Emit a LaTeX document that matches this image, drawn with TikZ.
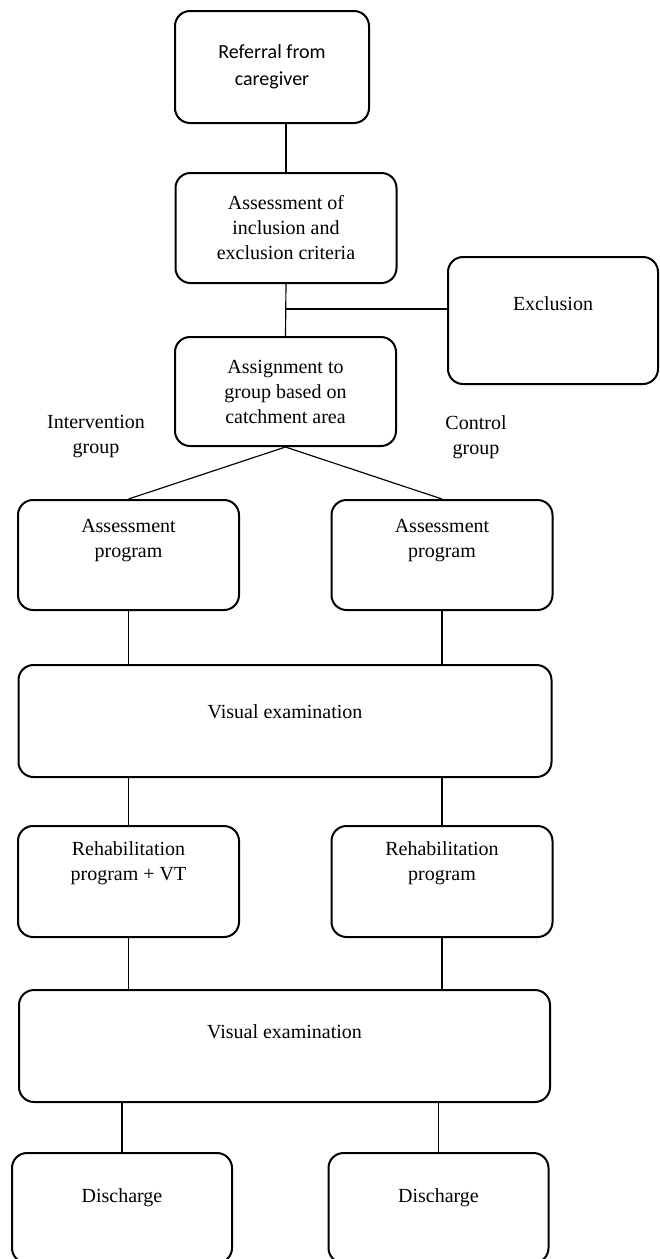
\documentclass[tikz,border=0pt]{standalone}
\usepackage{fontspec}
\setmainfont{Liberation Serif}
\newfontfamily\calibri{Carlito}
\newcommand{\px}{0.6pt}

\begin{document}
\begin{tikzpicture}[x=0.6pt, y=-0.6pt,
  stage/.style={draw, rounded corners=9pt, line width=1.2pt,
    minimum width=221*\px, minimum height=110*\px, inner sep=0pt,
    align=center, font=\fontsize{12}{15}\selectfont},
  wide/.style={stage, minimum width=533*\px, minimum height=112*\px},
  lbl/.style={align=center, inner sep=0pt, font=\fontsize{12}{15}\selectfont},
  link/.style={line width=0.7pt}]
\useasboundingbox (0,0) rectangle (660,1259);

% top of the flow
\node[stage, minimum width=194*\px, minimum height=112*\px,
  font=\calibri\fontsize{12}{16.5}\selectfont] (refer) at (272,67)
{Referral from\\caregiver};
\node[stage] (assess) at (286,228)
{Assessment of\\inclusion and\\exclusion criteria};
\node[stage, minimum width=210*\px, minimum height=127*\px] (exclu) at (553,320.5) {};
\node[lbl] (exclut) at (553,304) {Exclusion};
\node[stage, minimum height=109*\px] (assign) at (285.5,391.5)
{Assignment to\\group based on\\catchment area};
\node[lbl] (intgrp) at (96,437) {Intervention\\group};
\node[lbl] (ctlgrp) at (476,437) {Control\\group};

% two arms
\node[stage] (apL) at (128.5,555) {};
\node[lbl] (apLt) at (128.5,541) {Assessment\\program};
\node[stage] (apR) at (442,555) {};
\node[lbl] (apRt) at (442,541) {Assessment\\program};
\node[wide] (visA) at (285,721) {};
\node[lbl] (visAt) at (285,712) {Visual examination};
\node[stage, minimum height=111*\px] (rhL) at (128.5,881.5) {};
\node[lbl] (rhLt) at (128.5,863) {Rehabilitation\\program + VT};
\node[stage, minimum height=111*\px] (rhR) at (442,881.5) {};
\node[lbl] (rhRt) at (442,863) {Rehabilitation\\program};
\node[wide, minimum width=531*\px] (visB) at (284.5,1046) {};
\node[lbl] (visBt) at (284.5,1032) {Visual examination};
\node[stage, minimum width=220*\px] (dcL) at (122,1208) {};
\node[lbl] (dcLt) at (122,1198) {Discharge};
\node[stage, minimum width=220*\px] (dcR) at (438.5,1208) {};
\node[lbl] (dcRt) at (438.5,1198) {Discharge};

\coordinate (split) at (286,309);
\draw[link] (assess.north) -- (assess.north |- refer.south);
\draw[link] (assess.south) -- (assign.north);
\draw[link] (split) -- (exclu.west |- split);
\draw[link] (assign.south) -- (apL.north);
\draw[link] (assign.south) -- (apR.north);
\draw[link] (apL.south) -- (apL.south |- visA.north);
\draw[link] (apR.south) -- (apR.south |- visA.north);
\draw[link] (rhL.north |- visA.south) -- (rhL.north);
\draw[link] (rhR.north |- visA.south) -- (rhR.north);
\draw[link] (rhL.south) -- (rhL.south |- visB.north);
\draw[link] (rhR.south) -- (rhR.south |- visB.north);
\draw[link] (dcL.north |- visB.south) -- (dcL.north);
\draw[link] (dcR.north |- visB.south) -- (dcR.north);
\end{tikzpicture}
\end{document}
